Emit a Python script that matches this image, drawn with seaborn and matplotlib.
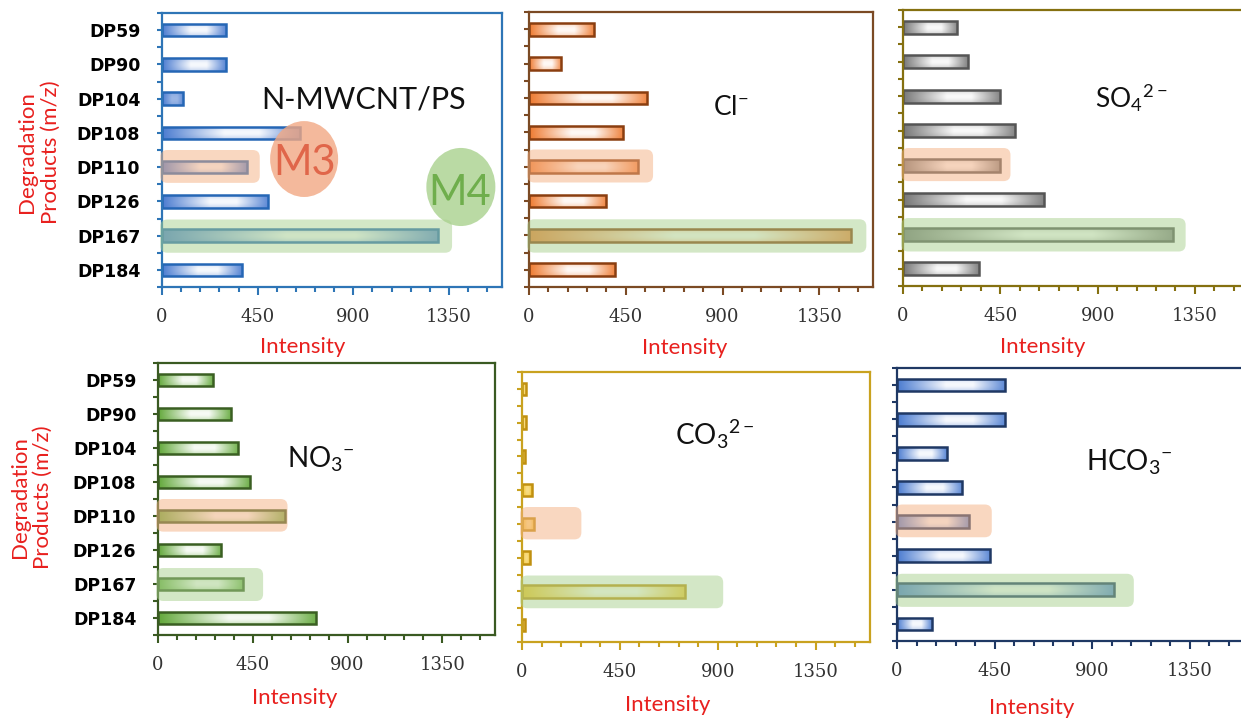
import numpy as np
import matplotlib
matplotlib.use("Agg")
import matplotlib.pyplot as plt
import seaborn as sns
from matplotlib.colors import to_rgb
from matplotlib.patches import FancyBboxPatch, Ellipse
from matplotlib.ticker import FixedLocator

# ---- data -------------------------------------------------------------
products = ["DP59", "DP90", "DP104", "DP108", "DP110", "DP126", "DP167", "DP184"]
n_mwcnt_ps = [300, 300, 100, 650, 400, 500, 1300, 375]
chloride = [300, 150, 550, 435, 505, 360, 1500, 400]
sulfate = [250, 300, 450, 520, 450, 650, 1250, 350]
nitrate = [260, 345, 380, 435, 605, 300, 405, 750]
carbonate = [20, 20, 15, 45, 55, 35, 750, 15]
bicarbonate = [500, 500, 230, 300, 330, 430, 1000, 160]

series = [n_mwcnt_ps, chloride, sulfate, nitrate, carbonate, bicarbonate]
titles = ["N-MWCNT/PS", "Cl$^{-}$", "SO$_{4}{}^{2-}$", "NO$_{3}{}^{-}$",
          "CO$_{3}{}^{2-}$", "HCO$_{3}{}^{-}$"]
x_ticks = [0, 450, 900, 1350]

# highlighted pathways: M3 -> DP110, M4 -> DP167 (right end of each band)
m3_band_end = [460, 577, 497, 615, 273, 437]
m4_band_end = [1365, 1569, 1307, 499, 925, 1092]

# ---- style ------------------------------------------------------------
sns.set_style("white")
plt.rcParams["font.family"] = ["Lato", "DejaVu Sans"]
plt.rcParams["mathtext.fontset"] = "custom"
plt.rcParams["mathtext.rm"] = "Lato"
plt.rcParams["mathtext.it"] = "Lato"
plt.rcParams["mathtext.bf"] = "Lato:bold"

styles = [
    dict(fill="#4A7BD0", edge="#2566B5", frame="#2E75B6"),
    dict(fill="#EE7A30", edge="#8A3E10", frame="#7B4A24"),
    dict(fill="#777777", edge="#555555", frame="#857010"),
    dict(fill="#62A83A", edge="#3A5F22", frame="#3A5A22"),
    dict(fill="#F2C020", edge="#C09010", frame="#C9A21F"),
    dict(fill="#4A7BD0", edge="#1F3864", frame="#1F3864"),
]

W, H = 1241, 719
rects = [(162, 13, 502, 287), (529, 12, 873, 287), (903, 10, 1249, 286),
         (158, 363, 495, 635), (522, 372, 870, 642), (897, 368, 1244, 641)]
title_pos = [(0.291, 0.653, 22), (0.535, 0.625, 19), (0.555, 0.645, 19),
             (0.383, 0.614, 20), (0.440, 0.730, 20), (0.545, 0.626, 20)]
xlabel_pos = [(0.415, -0.219), (0.453, -0.222), (0.405, -0.221),
              (0.407, -0.232), (0.420, -0.233), (0.389, -0.245)]

RED = "#E8201E"
XMAX = 1600

fig = plt.figure(figsize=(W / 100, H / 100), dpi=100)
fig.patch.set_facecolor("white")


def gradient_fill(color, strength=0.95):
    """Dark-light-dark horizontal shading, a little darker at top and bottom."""
    base = np.array(to_rgb(color))
    t = np.linspace(0, 1, 256)
    mix_h = np.interp(t, [0, 0.45, 0.7, 1], [0.0, strength, strength, 0.1])
    v = np.linspace(-1, 1, 16)
    mix_v = 1 - 0.3 * v ** 2
    mix = mix_v[:, None] * mix_h[None, :]
    return base[None, None, :] * (1 - mix[:, :, None]) + mix[:, :, None]


def band(ax, x0, x1, y0, y1, color, wpx, hpx):
    ux = XMAX / wpx
    uy = 8.0 / hpx
    box = FancyBboxPatch((x0, y0), x1 - x0, y1 - y0,
                         boxstyle=f"round,pad=0,rounding_size={7 * ux}",
                         mutation_aspect=uy / ux, fc=color, ec="none",
                         alpha=0.5, zorder=3, clip_on=False)
    ax.add_patch(box)


for i, (vals, st, r) in enumerate(zip(series, styles, rects)):
    l, t, rr, b = r
    wpx, hpx = rr - l, b - t
    ax = fig.add_axes([l / W, 1 - b / H, wpx / W, hpx / H])
    sns.barplot(x=vals, y=products, orient="h", width=0.37, color=st["fill"],
                errorbar=None, ax=ax)

    for p in list(ax.patches):
        x0, y0, w, h = p.get_x(), p.get_y(), p.get_width(), p.get_height()
        # very short bars keep more of their colour
        bar_px = w * wpx / XMAX
        grad = gradient_fill(st["fill"], 0.95 if bar_px > 25 else 0.45)
        img = ax.imshow(grad, extent=[x0, x0 + w, y0 + h, y0], aspect="auto",
                        interpolation="bilinear", zorder=2)
        img.set_clip_path(p)
        p.set_facecolor("none")
        p.set_edgecolor(st["edge"])
        p.set_linewidth(1.8)
        p.set_zorder(2.5)

    # highlight bands
    left = -8
    band(ax, left, m3_band_end[i], 4 - 0.5, 4 + 0.46, "#F4B183", wpx, hpx)
    band(ax, left, m4_band_end[i], 6 - 0.47, 6 + 0.5, "#A9D18E", wpx, hpx)

    ax.set_xlim(0, XMAX)
    ax.set_ylim(7.5, -0.5)

    for s in ax.spines.values():
        s.set_visible(True)
        s.set_color(st["frame"])
        s.set_linewidth(1.6)

    ax.xaxis.set_major_locator(FixedLocator(x_ticks))
    ax.xaxis.set_minor_locator(FixedLocator(np.arange(0, XMAX + 1, 90)))
    ax.set_xticklabels([str(v) for v in x_ticks])
    ax.tick_params(axis="x", which="major", direction="out", length=6,
                   width=1.5, color=st["frame"], pad=9, labelsize=13,
                   labelcolor="#333333", bottom=True)
    ax.tick_params(axis="x", which="minor", direction="out", length=3.6,
                   width=1.5, color=st["frame"], bottom=True)
    for lab in ax.get_xticklabels():
        lab.set_family("DejaVu Serif")

    ax.yaxis.set_major_locator(FixedLocator(range(len(products))))
    ax.yaxis.set_minor_locator(FixedLocator(np.arange(-0.5, 8, 1.0)))
    ax.tick_params(axis="y", which="both", direction="out", length=3.6,
                   width=1.5, color=st["frame"], left=True)
    if i in (0, 3):
        ax.set_yticklabels(products)
        ax.tick_params(axis="y", which="major", pad=12, labelsize=12.5,
                       labelcolor="black")
        for lab in ax.get_yticklabels():
            lab.set_family("DejaVu Sans")
            lab.set_fontweight("bold")
        ax.set_ylabel("Degradation\nProducts (m/z)", color=RED, fontsize=16,
                      va="center", ha="center")
        ax.yaxis.set_label_coords(-0.362 if i == 0 else -0.375,
                                  0.493 if i == 0 else 0.507)
    else:
        ax.set_yticklabels([])
        ax.set_ylabel("")

    ax.set_xlabel("Intensity", color=RED, fontsize=16)
    ax.xaxis.label.set_va("center")
    ax.xaxis.set_label_coords(*xlabel_pos[i])

    tx, ty, fs = title_pos[i]
    ax.text(tx, ty, titles[i], transform=ax.transAxes, fontsize=fs,
            ha="left", va="baseline", color="#111111", zorder=5)

    if i == 0:
        ax.add_patch(Ellipse((0.418, 0.467), 0.2, 0.277, transform=ax.transAxes,
                             fc="#F2A883", ec="none", alpha=0.8, zorder=4,
                             clip_on=False))
        ax.add_patch(Ellipse((0.879, 0.365), 0.203, 0.285, transform=ax.transAxes,
                             fc="#A9D18E", ec="none", alpha=0.8, zorder=4,
                             clip_on=False))
        ax.text(0.418, 0.409, "M3", transform=ax.transAxes, fontsize=30,
                ha="center", va="baseline", color="#E0664A", zorder=5)
        ax.text(0.876, 0.299, "M4", transform=ax.transAxes, fontsize=30,
                ha="center", va="baseline", color="#6FAE4C", zorder=5)

fig.savefig("out.png", dpi=100, facecolor="white")
